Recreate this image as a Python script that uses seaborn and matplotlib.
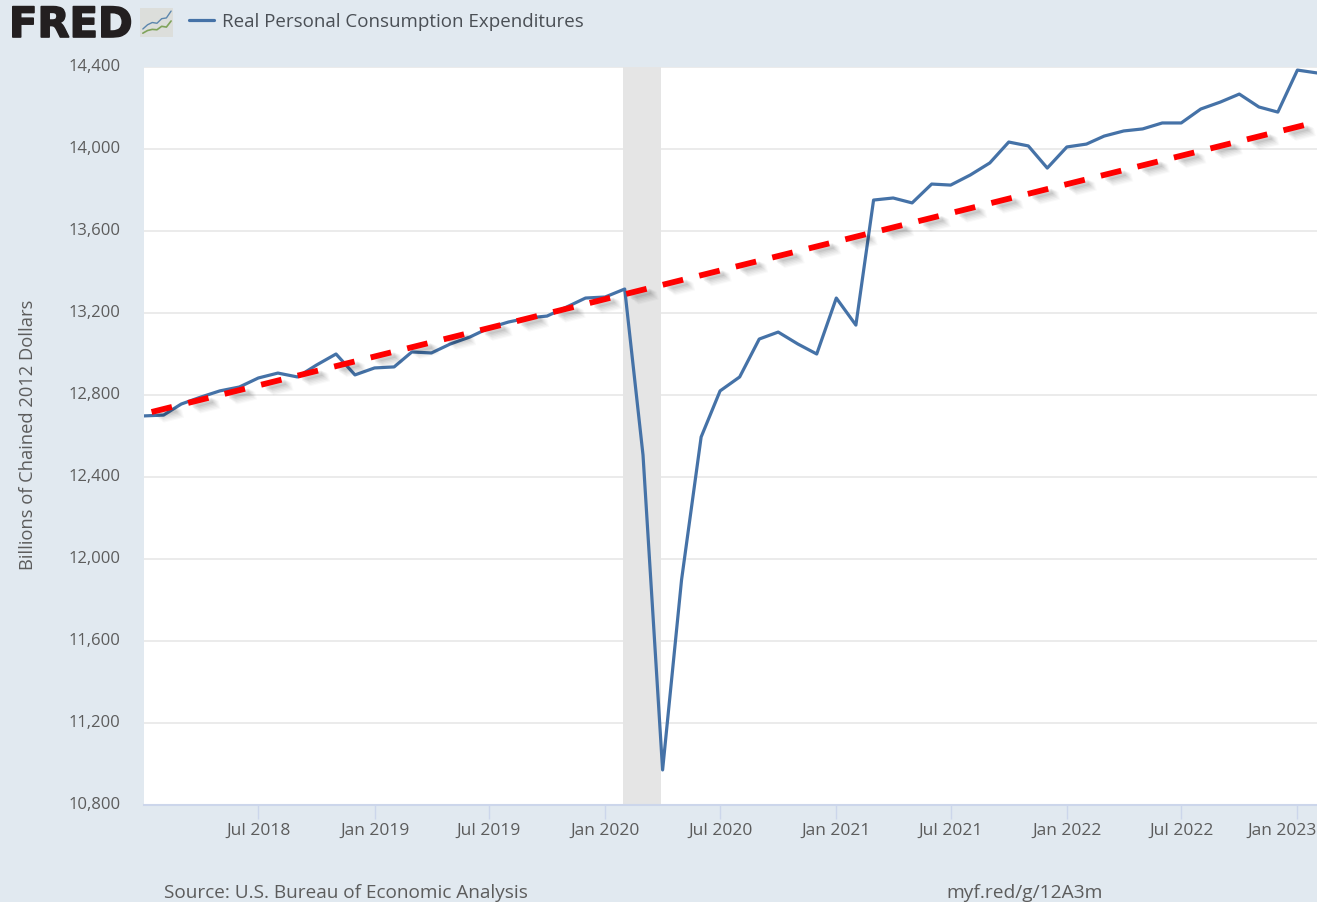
import matplotlib
matplotlib.use("Agg")
import matplotlib.pyplot as plt
import matplotlib.patheffects as pe
import matplotlib.dates as mdates
from matplotlib.ticker import FuncFormatter
from matplotlib.transforms import ScaledTranslation
import pandas as pd
import seaborn as sns

months = pd.date_range("2018-01-01", "2023-02-01", freq="MS")
pce = [12698, 12702, 12756, 12790, 12820, 12839, 12883, 12907, 12888, 12946, 13000, 12898,
       12932, 12937, 13010, 13005, 13049, 13083, 13127, 13156, 13176, 13185, 13229, 13273,
       13278, 13317, 12507, 10971, 11898, 12595, 12820, 12888, 13073, 13107, 13049, 13000,
       13273, 13141, 13751, 13761, 13737, 13829, 13824, 13873, 13932, 14034, 14015, 13907,
       14010, 14024, 14063, 14088, 14098, 14127, 14127, 14195, 14229, 14268, 14205, 14180,
       14385, 14371]

trend_dates = pd.to_datetime(["2018-01-13", "2023-02-01"])
trend_vals = [12717, 14132]

recession = pd.to_datetime(["2020-01-30", "2020-03-29"])
y_ticks = [10800, 11200, 11600, 12000, 12400, 12800, 13200, 13600, 14000, 14400]
x_ticks = pd.to_datetime(["2018-07-01", "2019-01-01", "2019-07-01", "2020-01-01", "2020-07-01",
                          "2021-01-01", "2021-07-01", "2022-01-01", "2022-07-01", "2023-01-01"])

icon_x = [0, 1, 2, 3, 4, 5, 6]
icon_blue = [1.5, 2.6, 3.2, 3.0, 4.2, 4.4, 6.2]
icon_green = [0.4, 1.1, 1.4, 1.3, 2.2, 2.0, 3.6]

bg = "#e1e9f0"
txt = "#5c5c5c"
W, H = 1317, 902

sns.set_style("white")
plt.rcParams["font.family"] = ["Open Sans", "DejaVu Sans"]

fig = plt.figure(figsize=(W / 100, H / 100), dpi=100, facecolor=bg)
ax = fig.add_axes([144 / W, 1 - 805 / H, (W - 144) / W, (805 - 67) / H])
ax.set_facecolor("white")

df = pd.DataFrame({"date": months, "pce": pce})
sns.lineplot(data=df, x="date", y="pce", color="#4572a7", linewidth=2.3, ax=ax, zorder=4,
             label="Real Personal Consumption Expenditures")

trend = pd.DataFrame({"date": trend_dates, "val": trend_vals})
sns.lineplot(data=trend, x="date", y="val", color="#ff0000", linewidth=4.2, ax=ax, zorder=5,
             legend=False)
red = ax.lines[-1]
red.set_linestyle((0, (3.6, 2.85)))
red.set_dash_capstyle("butt")
# soft shadow: stacked faint strokes drifting down and right
shadow = []
for off, w, a in [(8, 6, 0.025), (7, 6, 0.03), (6, 5.5, 0.035), (5, 5, 0.04), (4, 4.5, 0.05), (3, 4, 0.06)]:
    shadow.append(pe.SimpleLineShadow(offset=(off, -off * 0.6), shadow_color="#000000", alpha=a, linewidth=w))
red.set_path_effects(shadow + [pe.Normal()])

ax.axvspan(recession[0], recession[1], color="#e5e5e5", lw=0, zorder=1)

ax.set_xlim(months[0], months[-1])
ax.set_ylim(10800, 14400)
ax.set_yticks(y_ticks)
ax.set_xticks(x_ticks)
ax.yaxis.set_major_formatter(FuncFormatter(lambda v, _: f"{int(v):,}"))
ax.xaxis.set_major_formatter(mdates.DateFormatter("%b %Y"))
ax.grid(axis="y", color="#ebebeb", linewidth=1.4, zorder=2)
ax.set_axisbelow(True)
for s in ["top", "left", "right"]:
    ax.spines[s].set_visible(False)
ax.spines["bottom"].set_color("#ccd6eb")
ax.spines["bottom"].set_linewidth(1.5)
ax.tick_params(axis="x", length=10, width=1, color="#ccd6eb", labelsize=12.5, labelcolor=txt, pad=2.5,
               bottom=True)
ax.tick_params(axis="y", length=0, labelsize=12, labelcolor=txt, pad=17)
for lab in ax.get_yticklabels():
    lab.set_transform(lab.get_transform() + ScaledTranslation(0, 2 / 100, fig.dpi_scale_trans))
last = ax.get_xticklabels()[-1]
last.set_transform(last.get_transform() + ScaledTranslation(-15 / 100, 0, fig.dpi_scale_trans))

ax.set_xlabel("")
ax.set_ylabel("")
fig.text(28 / W, 1 - 435 / H, "Billions of Chained 2012 Dollars", rotation=90, ha="center", va="center",
         fontsize=13.2, color=txt)

handles, labels = ax.get_legend_handles_labels()
leg = ax.legend(handles, labels, loc="center left", bbox_to_anchor=(172 / W, 1 - 22 / H),
                bbox_transform=fig.transFigure, frameon=False, fontsize=13.5, labelcolor="#4a4f55",
                handlelength=1.33, handletextpad=0.43)

fig.text(164 / W, 1 - 893 / H, "Source: U.S. Bureau of Economic Analysis", ha="left", va="center",
         fontsize=13.7, color=txt)
fig.text(946 / W, 1 - 893 / H, "myf.red/g/12A3m", ha="left", va="center", fontsize=13.8, color=txt)

logo = fig.text(9 / W, 1 - 37 / H, "FRED", ha="left", va="baseline", fontsize=30, fontweight="bold",
                family="DejaVu Sans", color="#231f20")
logo.set_path_effects([pe.withStroke(linewidth=1.2, foreground="#231f20")])

icon = fig.add_axes([140 / W, 1 - 37 / H, 33 / W, 29 / H], facecolor="#dcdedb")
sns.lineplot(x=icon_x, y=icon_blue, color="#5b86ad", linewidth=1, ax=icon)
sns.lineplot(x=icon_x, y=icon_green, color="#7fa35a", linewidth=1.2, ax=icon)
icon.set_xlim(-0.6, 6.4)
icon.set_ylim(-0.6, 7)
icon.set_xticks([])
icon.set_yticks([])
icon.set_xlabel("")
icon.set_ylabel("")
for s in icon.spines.values():
    s.set_visible(False)

fig.savefig("out.png", dpi=100, facecolor=bg)
